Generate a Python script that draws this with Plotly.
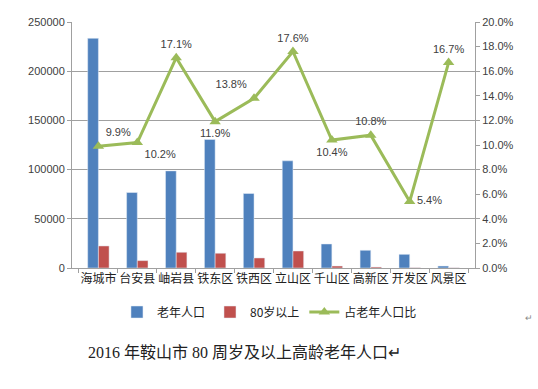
import plotly.graph_objects as go

categories = ["海城市", "台安县", "岫岩县", "铁东区", "铁西区", "立山区", "千山区", "高新区", "开发区", "风景区"]
elderly = [233400, 76700, 98700, 130600, 75700, 108900, 24400, 18000, 13900, 2000]
over80 = [22400, 7500, 16000, 15000, 10200, 17300, 2000, 1000, 300, 200]
ratio = [0.099, 0.102, 0.171, 0.119, 0.138, 0.176, 0.104, 0.108, 0.054, 0.167]
ratio_labels = ["9.9%", "10.2%", "17.1%", "11.9%", "13.8%", "17.6%", "10.4%", "10.8%", "5.4%", "16.7%"]
label_pos = ["top right", "bottom right", "top center", "bottom center", "top left",
             "top center", "bottom center", "top center", "middle right", "top center"]

CJK = "Noto Sans CJK SC, sans-serif"
fig = go.Figure()
fig.add_trace(go.Bar(x=categories, y=elderly, name="老年人口", marker_color="#4F81BD"))
fig.add_trace(go.Bar(x=categories, y=over80, name="80岁以上", marker_color="#C0504D"))
fig.add_trace(go.Scatter(x=categories, y=ratio, name="占老年人口比", yaxis="y2",
                         mode="lines+markers+text", text=ratio_labels, textposition=label_pos,
                         textfont=dict(size=11, color="#404040", family="Arial, sans-serif"),
                         line=dict(color="#9BBB59", width=3),
                         marker=dict(symbol="triangle-up", size=10, color="#9BBB59")))

fig.update_layout(
    width=538, height=389,
    margin=dict(l=72, r=63, t=22, b=121),
    paper_bgcolor="white", plot_bgcolor="white",
    barmode="group", bargap=0.45, bargroupgap=0,
    font=dict(family=CJK, size=12, color="#404040"),
    xaxis=dict(showline=True, linecolor="#A0A0A0", ticks="outside", tickson="boundaries",
               ticklen=4, tickcolor="#A0A0A0", tickangle=0, automargin=False,
               tickfont=dict(size=12, color="#222222")),
    yaxis=dict(range=[0, 250000], dtick=50000, showgrid=True, gridcolor="#A0A0A0",
               showline=True, linecolor="#A0A0A0", ticks="outside", ticklen=4, tickcolor="#A0A0A0",
               tickformat="d", tickfont=dict(size=11, family="Arial, sans-serif", color="#404040"),
               zeroline=False, automargin=False),
    yaxis2=dict(range=[0, 0.20], dtick=0.02, overlaying="y", side="right", showgrid=False,
                showline=True, linecolor="#A0A0A0", ticks="outside", ticklen=4, tickcolor="#A0A0A0",
                tickformat=".1%", tickfont=dict(size=11, family="Arial, sans-serif", color="#404040"),
                zeroline=False, automargin=False),
    legend=dict(orientation="h", x=0.49, xanchor="center", y=-0.12, yanchor="top",
                font=dict(size=12, color="#222222"), itemwidth=30, traceorder="normal"),
    showlegend=True,
)
fig.add_annotation(text="2016 年鞍山市 80 周岁及以上高龄老年人口↵", xref="paper", yref="paper",
                   x=0.035, y=-0.30, xanchor="left", yanchor="top", showarrow=False,
                   font=dict(size=16, family="Liberation Serif, Noto Sans CJK SC, serif", color="#222222"))
fig.add_annotation(text="↵", xref="paper", yref="paper", x=1.12, y=-0.20, xanchor="left",
                   yanchor="middle", showarrow=False, font=dict(size=9, color="#888888"))
fig.write_html("out.html", config={"displayModeBar": False},
               post_script="document.body.style.margin='0';")
